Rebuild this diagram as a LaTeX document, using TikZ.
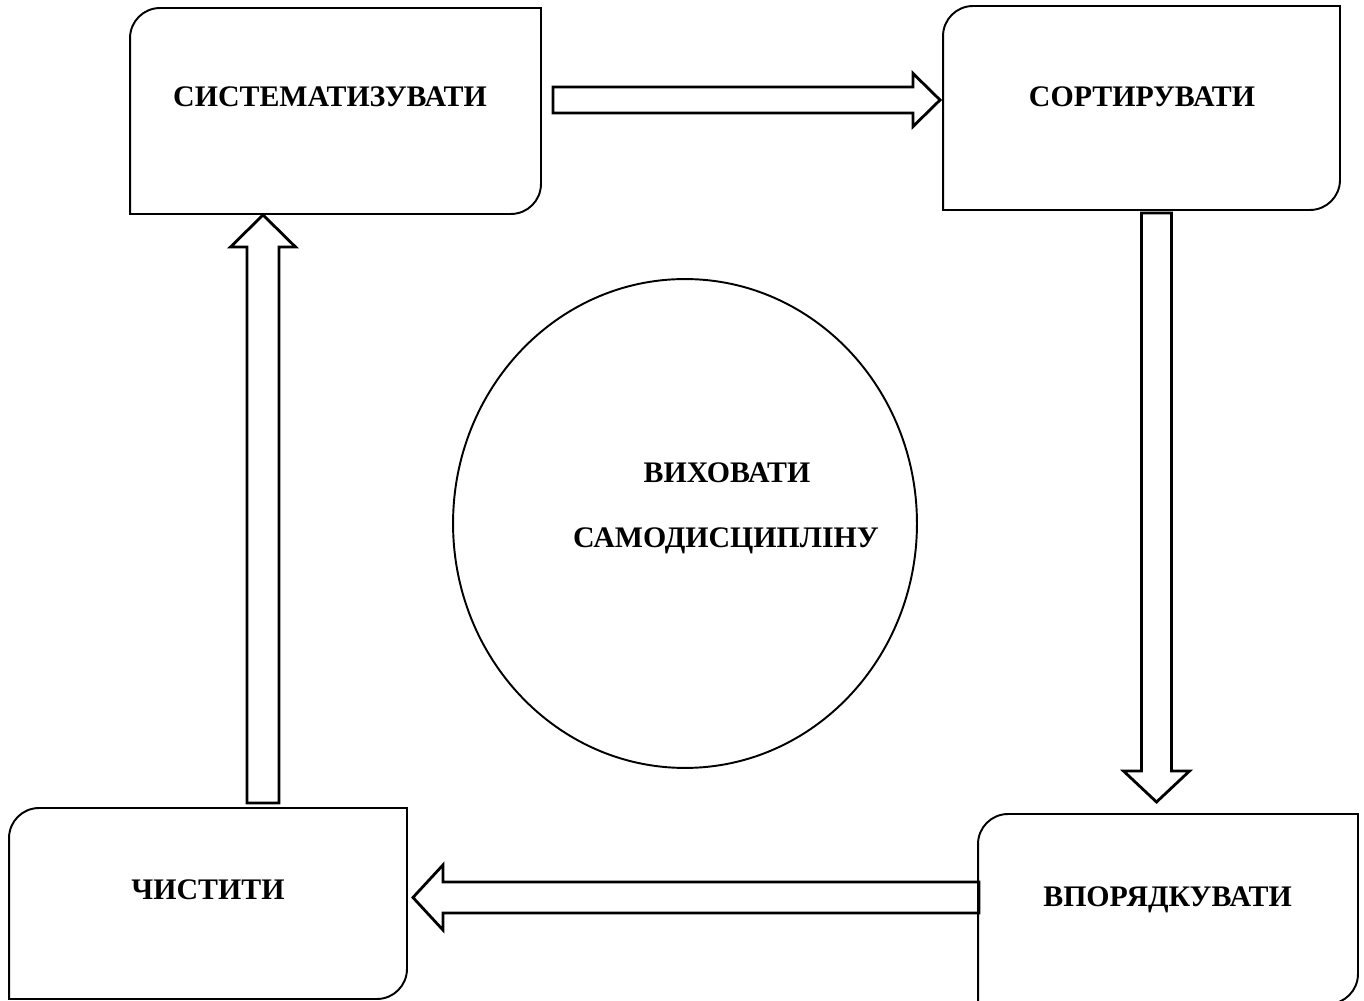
\documentclass[tikz,border=0pt]{standalone}
\usepackage{fontspec}
\setmainfont{Liberation Serif}
\usetikzlibrary{calc,shapes.geometric}

\tikzset{
  card/.style={rectangle, outer sep=0pt, inner sep=0pt},
  cardline/.style={line width=1.1pt},
  lbl/.style={font=\fontsize{17}{20}\selectfont\bfseries, inner sep=0pt, anchor=base},
  barrow/.style={line width=1.6pt, line join=miter}
}

% box with the top-left and bottom-right corners rounded
\newcommand\cardframe[1]{%
  \draw[cardline] (#1.south west) -- ([yshift=-0.6cm]#1.north west)
    arc[start angle=180, end angle=90, radius=0.6cm] -- (#1.north east)
    -- ([yshift=0.6cm]#1.south east)
    arc[start angle=0, end angle=-90, radius=0.6cm] -- cycle;}

% hollow block arrow: name, tail, tip, half shaft, half head, head length
\newcommand\blockarrow[6]{%
  \coordinate (#1) at ($(#3)!#6!(#2)$);
  \draw[barrow] ($(#2)!#4!90:(#3)$) -- ($(#1)!#4!90:(#3)$) -- ($(#1)!#5!90:(#3)$)
    -- (#3) -- ($(#1)!#5!-90:(#3)$) -- ($(#1)!#4!-90:(#3)$) -- ($(#2)!#4!-90:(#3)$) -- cycle;}

\begin{document}
\begin{tikzpicture}[x=0.02cm, y=0.02cm]
  \useasboundingbox (0,0) rectangle (1364,1000);

  % the four steps
  \node[card, minimum width=8.22cm, minimum height=4.12cm] (sys) at (335.5,889) {};
  \node[card, minimum width=7.94cm, minimum height=4.08cm] (sort) at (1141.5,892) {};
  \node[card, minimum width=7.96cm, minimum height=3.82cm] (clean) at (208,96.5) {};
  \node[card, minimum width=7.6cm, minimum height=3.8cm] (order) at (1168,91) {};
  \foreach \n in {sys,sort,clean,order}{\cardframe{\n}}

  \node[lbl] (sys-t) at (330,893.4) {СИСТЕМАТИЗУВАТИ};
  \node[lbl] (sort-t) at (1142,893.4) {СОРТИРУВАТИ};
  \node[lbl] (clean-t) at (208,100.4) {ЧИСТИТИ};
  \node[lbl] (order-t) at (1167.5,93.4) {ВПОРЯДКУВАТИ};

  % the goal in the middle
  \node[draw, ellipse, line width=1.1pt, outer sep=0pt, inner sep=0pt,
    minimum width=9.28cm, minimum height=9.78cm] (goal) at (685,476.5) {};
  \node[lbl] (goal-t1) at (727,517.4) {ВИХОВАТИ};
  \node[lbl] (goal-t2) at (726,452.4) {САМОДИСЦИПЛІНУ};

  % the cycle of block arrows
  \coordinate (sys-out) at ([xshift=0.24cm, yshift=0.22cm]sys.east);
  \coordinate (sort-in) at ([xshift=-0.06cm, yshift=0.16cm]sort.west);
  \blockarrow{a1}{sys-out}{sort-in}{0.26cm}{0.53cm}{0.54cm}

  \coordinate (sort-out) at ([xshift=0.3cm, yshift=-0.06cm]sort.south);
  \coordinate (order-in) at ([xshift=-0.23cm, yshift=0.24cm]order.north);
  \blockarrow{a2}{sort-out}{order-in}{0.3cm}{0.66cm}{0.62cm}

  \coordinate (order-out) at ([xshift=0.02cm, yshift=0.23cm]order.west);
  \coordinate (clean-in) at ([xshift=0.12cm, yshift=0.12cm]clean.east);
  \blockarrow{a3}{order-out}{clean-in}{0.31cm}{0.65cm}{0.6cm}

  \coordinate (clean-out) at ([xshift=1.1cm, yshift=0.1cm]clean.north);
  \coordinate (sys-in) at ([xshift=-1.45cm, yshift=-0.02cm]sys.south);
  \blockarrow{a4}{clean-out}{sys-in}{0.32cm}{0.65cm}{0.64cm}
\end{tikzpicture}
\end{document}
